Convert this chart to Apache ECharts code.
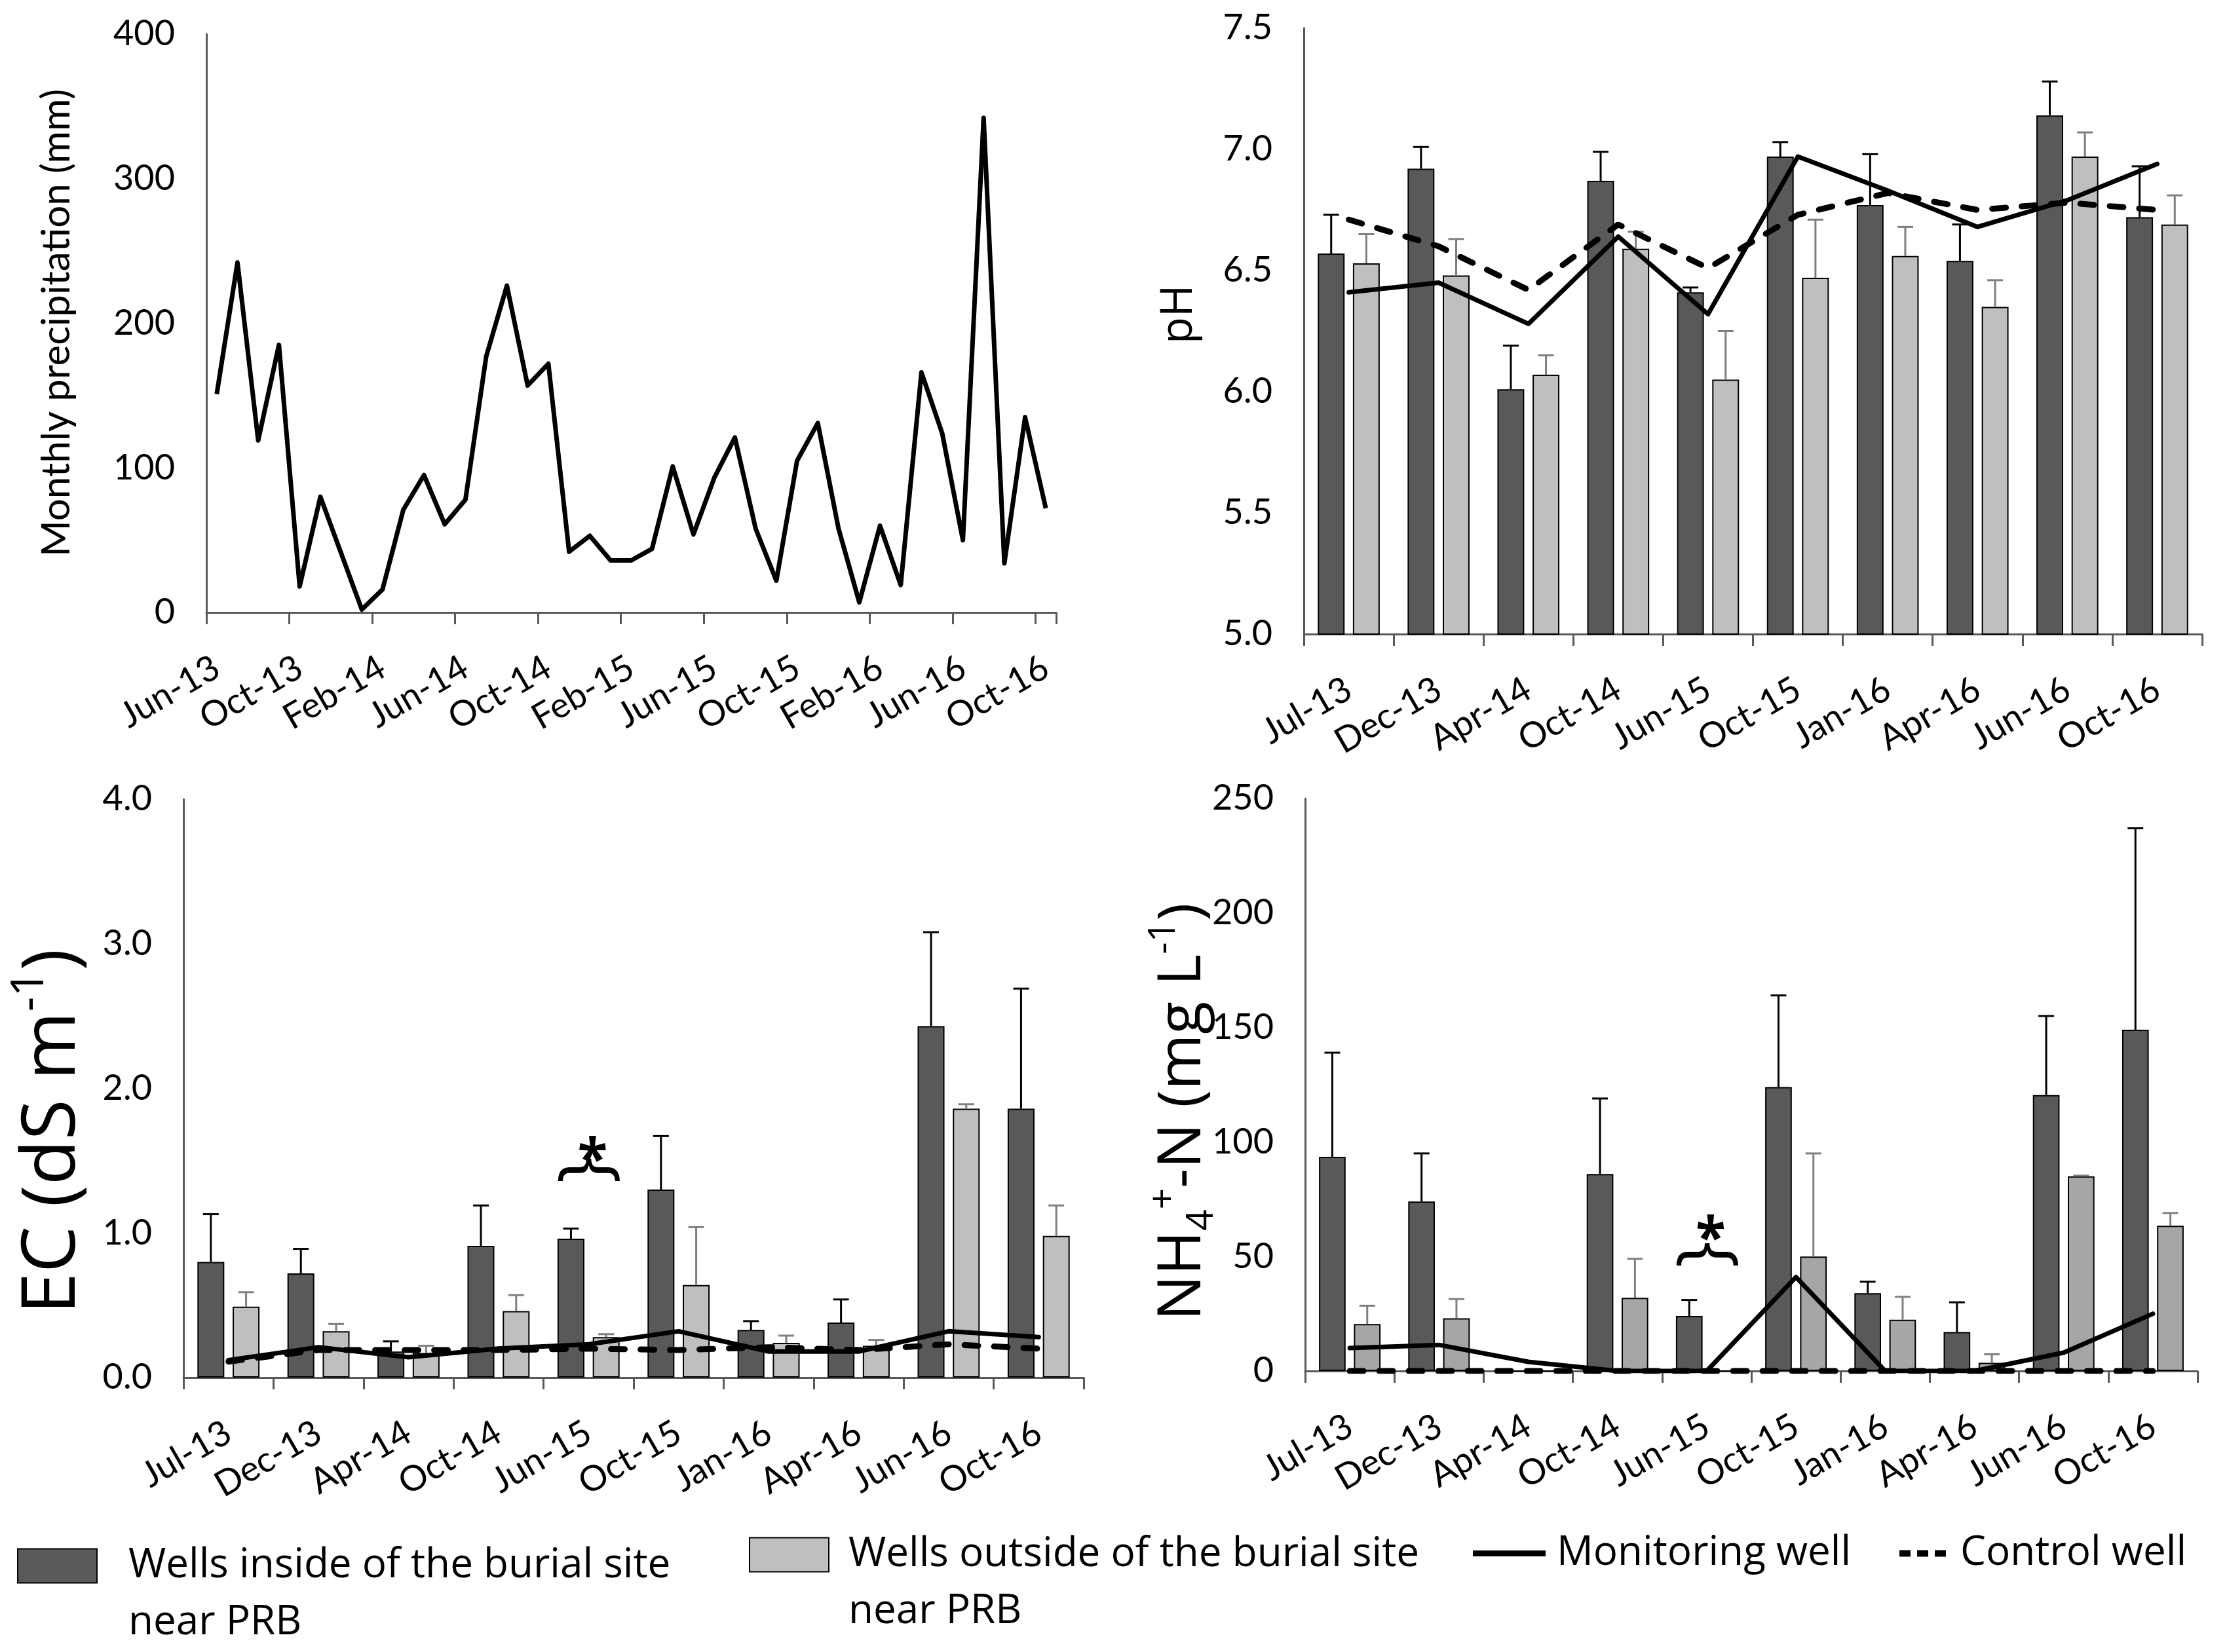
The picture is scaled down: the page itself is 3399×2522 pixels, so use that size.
<!DOCTYPE html>
<html>
<head>
<meta charset="utf-8">
<script src="https://cdn.jsdelivr.net/npm/echarts@6/dist/echarts.min.js"></script>
<style>
html,body{margin:0;padding:0;background:#ffffff;}
#c{width:3399px;height:2522px;}
</style>
</head>
<body>
<div id="c"></div>
<script>
// ---------------- DATA ----------------
const precipMonths = ['Jun-13','Jul-13','Aug-13','Sep-13','Oct-13','Nov-13','Dec-13',
  'Jan-14','Feb-14','Mar-14','Apr-14','May-14','Jun-14','Jul-14','Aug-14','Sep-14','Oct-14','Nov-14','Dec-14',
  'Jan-15','Feb-15','Mar-15','Apr-15','May-15','Jun-15','Jul-15','Aug-15','Sep-15','Oct-15','Nov-15','Dec-15',
  'Jan-16','Feb-16','Mar-16','Apr-16','May-16','Jun-16','Jul-16','Aug-16','Sep-16','Oct-16'];
const precipValues = [151,242,119,185,18,80,41,2,16,71,95,61,78,177,226,157,172,42,53,36,36,44,101,54,93,121,58,22,105,131,58,7,60,19,166,124,50,342,34,135,72];
const precipYTicks = [0,100,200,300,400];

const sampleDates = ['Jul-13','Dec-13','Apr-14','Oct-14','Jun-15','Oct-15','Jan-16','Apr-16','Jun-16','Oct-16'];

const phInside     = [6.57,6.92,6.01,6.87,6.41,6.97,6.77,6.54,7.14,6.72];
const phInsideSD   = [0.16,0.09,0.18,0.12,0.02,0.06,0.21,0.15,0.14,0.21];
const phOutside    = [6.53,6.48,6.07,6.59,6.05,6.47,6.56,6.35,6.97,6.69];
const phOutsideSD  = [0.12,0.15,0.08,0.07,0.20,0.24,0.12,0.11,0.10,0.12];
const phMonitoring = [6.41,6.45,6.28,6.64,6.32,6.97,6.83,6.68,6.79,6.94];
const phControl    = [6.71,6.60,6.42,6.69,6.51,6.73,6.82,6.75,6.78,6.75];
const phYTicks = [5.0,5.5,6.0,6.5,7.0,7.5];

const ecInside     = [0.80,0.72,0.18,0.91,0.96,1.30,0.33,0.38,2.43,1.86];
const ecInsideSD   = [0.33,0.17,0.07,0.28,0.07,0.37,0.06,0.16,0.65,0.83];
const ecOutside    = [0.49,0.32,0.17,0.46,0.28,0.64,0.24,0.22,1.86,0.98];
const ecOutsideSD  = [0.10,0.05,0.05,0.11,0.02,0.40,0.05,0.04,0.03,0.21];
const ecMonitoring = [0.12,0.21,0.14,0.20,0.23,0.32,0.18,0.18,0.32,0.28];
const ecControl    = [0.11,0.19,0.19,0.19,0.20,0.19,0.21,0.19,0.23,0.20];
const ecYTicks = [0.0,1.0,2.0,3.0,4.0];
const ecSignif = ['Jun-15', 1.39, 1.57]; // category, brace level, asterisk level

const nhInside     = [93.5,74,0,86,24,124,34,17,120.5,149];
const nhInsideSD   = [45.5,21,0,33,7,40,5,13,34.5,88];
const nhOutside    = [20.5,23,0,32,0,50,22.4,3.6,85,63.4];
const nhOutsideSD  = [8,8.4,0,17,0,45,10,3.7,0.3,5.6];
const nhMonitoring = [10,11.4,4,0,0,41,0,0,8,25];
const nhControl    = [0,0,0,0,0,0,0,0,0,0];
const nhYTicks = [0,50,100,150,200,250];
const nhSignif = ['Jun-15', 48, 62];

const NAME_IN = 'Wells inside of the burial site near PRB';
const NAME_OUT = 'Wells outside of the burial site near PRB';
const NAME_MON = 'Monitoring well';
const NAME_CTL = 'Control well';

// ---------------- STYLE ----------------
const TICK_FONT = 'Lato, "Open Sans", sans-serif';
const TITLE_FONT = '"Open Sans", "Noto Sans", sans-serif';
const AXIS_COLOR = '#595959';
const DARK = '#595959';
const LIGHT = '#bfbfbf';
const LIGHT_NH = '#a6a6a6';
const CAT_GAP = 0.31, BAR_GAP = 0.31;
const BW = (1 - CAT_GAP) / (2 + BAR_GAP);
const BAR_OFFSET = BW * (1 + BAR_GAP) / 2;
const TICK_SIZE = 54;
const SCRIPT_SCALE = 0.62;

const grids = [
  {left:315, top:52, width:1297, height:883},
  {left:1990, top:43, width:1371, height:925},
  {left:280, top:1220, width:1374, height:883},
  {left:1992, top:1219, width:1362, height:874}
].map(g => Object.assign({containLabel:false, outerBoundsMode:'none'}, g));

function xAxisCat(gi, data, every) {
  return {
    type:'category', gridIndex:gi, data:data, boundaryGap:true,
    axisLine:{show:true, lineStyle:{color:AXIS_COLOR, width:3}},
    axisTick:{show:true, interval:every, length:18, inside:false, lineStyle:{color:AXIS_COLOR, width:3}},
    axisLabel:{show:true, interval:every, rotate:30, margin:80, fontSize:TICK_SIZE, fontFamily:TICK_FONT, color:'#000'},
    splitLine:{show:false}
  };
}
function yAxisVal(gi, ticks, decimals) {
  return {
    type:'value', gridIndex:gi, min:ticks[0], max:ticks[ticks.length-1], interval:ticks[1]-ticks[0],
    axisLine:{show:true, lineStyle:{color:AXIS_COLOR, width:3}},
    axisTick:{show:false}, splitLine:{show:false},
    axisLabel:{margin:48, fontSize:TICK_SIZE, fontFamily:TICK_FONT, color:'#000',
      formatter: v => Number(v).toFixed(decimals)}
  };
}

function errSeries(gi, means, sds, side, color, width) {
  return {
    type:'custom', xAxisIndex:gi, yAxisIndex:gi, z:3, silent:true,
    encode:{x:0, y:[1,2]},
    data: means.map((m, i) => [i, m, m + sds[i]]),
    renderItem: (params, api) => {
      const i = api.value(0), m = api.value(1), t = api.value(2);
      if (!(t > m)) return {type:'group', children:[]};
      const band = api.size([1, 0])[0];
      const b = api.coord([i, m]);
      const tp = api.coord([i, t]);
      const cx = b[0] + side * BAR_OFFSET * band;
      const cap = 12;
      return {type:'group', children:[
        {type:'line', shape:{x1:cx, y1:b[1], x2:cx, y2:tp[1]}, style:{stroke:color, lineWidth:width}},
        {type:'line', shape:{x1:cx-cap, y1:tp[1], x2:cx+cap, y2:tp[1]}, style:{stroke:color, lineWidth:width}}
      ]};
    }
  };
}

function signifMark(sig) {
  if (!sig) return undefined;
  return {
    symbol:'circle', symbolSize:0, silent:true, animation:false,
    data:[
      {coord:[sig[0], sig[1]], label:{show:true, position:'inside', formatter:'}', rotate:90, offset:[10,0],
        fontSize:108, fontWeight:'normal', fontFamily:TITLE_FONT, color:'#000'}},
      {coord:[sig[0], sig[2]], label:{show:true, position:'inside', formatter:'*', offset:[6,18],
        fontSize:84, fontWeight:'bold', fontFamily:TITLE_FONT, color:'#000'}}
    ]
  };
}

function barPanel(gi, inside, insideSD, outside, outsideSD, mon, ctl, lightColor, sig) {
  return [
    {type:'bar', name:NAME_IN, xAxisIndex:gi, yAxisIndex:gi, data:inside, z:2,
      barCategoryGap:(CAT_GAP*100)+'%', barGap:(BAR_GAP*100)+'%',
      itemStyle:{color:DARK, borderColor:'#000', borderWidth:2}},
    {type:'bar', name:NAME_OUT, xAxisIndex:gi, yAxisIndex:gi, data:outside, z:2,
      barCategoryGap:(CAT_GAP*100)+'%', barGap:(BAR_GAP*100)+'%',
      itemStyle:{color:lightColor, borderColor:'#000', borderWidth:2}},
    errSeries(gi, inside, insideSD, -1, '#000', 3),
    errSeries(gi, outside, outsideSD, 1, '#7f7f7f', 3),
    {type:'line', name:NAME_MON, xAxisIndex:gi, yAxisIndex:gi, data:mon, z:5,
      symbol:'none', itemStyle:{color:'#000'}, lineStyle:{color:'#000', width:7, cap:'round', join:'round'}},
    {type:'line', name:NAME_CTL, xAxisIndex:gi, yAxisIndex:gi, data:ctl, z:4,
      symbol:'none', itemStyle:{color:'#000'}, lineStyle:{color:'#000', width:9, type:[21,24], cap:'round'},
      markPoint: signifMark(sig)}
  ];
}

const series = [
  {type:'line', name:'Monthly precipitation', xAxisIndex:0, yAxisIndex:0, data:precipValues,
    symbol:'none', lineStyle:{color:'#000', width:7, join:'round'}, itemStyle:{color:'#000'}}
].concat(
  barPanel(1, phInside, phInsideSD, phOutside, phOutsideSD, phMonitoring, phControl, LIGHT, null),
  barPanel(2, ecInside, ecInsideSD, ecOutside, ecOutsideSD, ecMonitoring, ecControl, LIGHT, ecSignif),
  barPanel(3, nhInside, nhInsideSD, nhOutside, nhOutsideSD, nhMonitoring, nhControl, LIGHT_NH, nhSignif)
);

const legendText = {fontSize:62, fontFamily:TITLE_FONT, color:'#000', lineHeight:87};
const twoLine = n => '\n' + n.replace(' near PRB', '\nnear PRB');
const legends = [
  {left:26, top:2260, data:[NAME_IN], icon:'rect', itemWidth:121, itemHeight:52, formatter:twoLine,
    textStyle:Object.assign({padding:[0,0,0,43]}, legendText)},
  {left:1143, top:2243, data:[NAME_OUT], icon:'rect', itemWidth:121, itemHeight:52, formatter:twoLine,
    textStyle:Object.assign({padding:[0,0,0,25]}, legendText)},
  {left:2248, top:2328, data:[NAME_MON], icon:'rect', itemWidth:111, itemHeight:9,
    textStyle:Object.assign({padding:[0,0,0,12]}, legendText)},
  {left:2899, top:2328, data:[NAME_CTL], icon:'path://M0,0H17V10H0Z M27,0H44V10H27Z M54,0H71V10H54Z',
    itemWidth:71, itemHeight:10, textStyle:Object.assign({padding:[0,0,0,17]}, legendText)}
].map(l => Object.assign({orient:'horizontal', padding:0, selectedMode:false}, l));

// Axis titles: parts of [text, scale, style]; font size fitted to the title length seen in the figure
const mctx = document.createElement('canvas').getContext('2d');
function fitSize(parts, targetLen, family) {
  let w = 0;
  parts.forEach(p => { mctx.font = (100 * p[1]) + 'px ' + family; w += mctx.measureText(p[0]).width; });
  return 100 * targetLen / w;
}
const titles = [
  {x:87, y:850, len:715, font:TICK_FONT, parts:[['Monthly precipitation (mm)',1,'n']]},
  {x:1800, y:525, len:91, font:TITLE_FONT, parts:[['pH',1,'n']]},
  {x:82, y:2006, len:560, font:TITLE_FONT, parts:[['EC (dS m',1,'n'],['-1',SCRIPT_SCALE,'sup'],[')',1,'n']]},
  {x:1806, y:2016, len:640, font:TITLE_FONT, parts:[['NH',1,'n'],['4',SCRIPT_SCALE,'sub'],['+',SCRIPT_SCALE,'sup'],['-N (mg L',1,'n'],['-1',SCRIPT_SCALE,'sup'],[')',1,'n']]}
];
const graphic = titles.map(t => {
  const size = Math.round(fitSize(t.parts, t.len, t.font));
  const small = Math.round(size * SCRIPT_SCALE);
  const lh = Math.round(size * 1.25);
  return {
    type:'text', x:t.x, y:t.y, rotation:Math.PI/2, silent:true,
    style:{text:t.parts.map(p => '{' + p[2] + '|' + p[0] + '}').join(''),
      fontSize:size, fontFamily:t.font, fill:'#000', align:'left', verticalAlign:'middle',
      rich:{
        n:{fontSize:size, fontFamily:t.font, fill:'#000', lineHeight:lh},
        sup:{fontSize:small, fontFamily:t.font, fill:'#000', verticalAlign:'top', lineHeight:lh},
        sub:{fontSize:small, fontFamily:t.font, fill:'#000', verticalAlign:'bottom', lineHeight:lh}
      }}
  };
});

const chart = echarts.init(document.getElementById('c'), null, {renderer:'canvas', width:3399, height:2522});
chart.setOption({
  backgroundColor:'#ffffff',
  animation:false,
  grid: grids,
  xAxis: [
    xAxisCat(0, precipMonths, 3),
    xAxisCat(1, sampleDates, 0),
    xAxisCat(2, sampleDates, 0),
    xAxisCat(3, sampleDates, 0)
  ],
  yAxis: [
    yAxisVal(0, precipYTicks, 0),
    yAxisVal(1, phYTicks, 1),
    yAxisVal(2, ecYTicks, 1),
    yAxisVal(3, nhYTicks, 0)
  ],
  legend: legends,
  graphic: graphic,
  series: series
});
</script>
</body>
</html>
